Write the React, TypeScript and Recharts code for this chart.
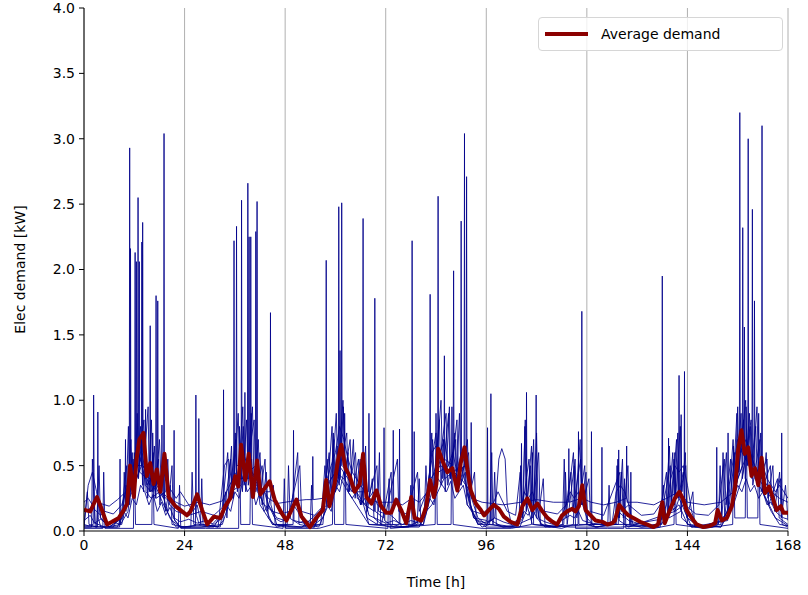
import { LineChart, Line, XAxis, YAxis, CartesianGrid, Legend } from 'recharts';

// hour of week, kW
const house1: [number, number][] = [
  [0, 0.05], [1.0, 0.04], [2.2, 0.05], [2.3, 1.04], [2.4, 0.45], [2.6, 0.06], [5.0, 0.03], [8.0, 0.03], [9.0, 0.12], [9.8, 0.2], [9.9, 0.7], [10.0, 0.22],
  [10.8, 0.3], [10.9, 2.93], [11.0, 0.45], [12.0, 0.35], [13.7, 0.5], [13.8, 2.21], [13.9, 0.6], [15.0, 0.35], [16.0, 0.4], [17.1, 0.3], [17.2, 1.8], [17.3, 0.35],
  [19.5, 0.25], [21.4, 0.2], [21.5, 0.77], [21.6, 0.08], [23.0, 0.03], [26.6, 0.04], [26.7, 1.04], [26.8, 0.12], [27.5, 0.05], [32.0, 0.03], [33.2, 0.08], [33.3, 1.08],
  [33.4, 0.15], [35.0, 0.3], [37.5, 0.35], [37.6, 2.53], [37.7, 0.4], [39.0, 0.5], [41.2, 0.4], [41.3, 2.52], [41.4, 0.3], [43.0, 0.2], [45.0, 0.05], [50.0, 0.03],
  [55.0, 0.03], [57.0, 0.2], [57.7, 0.3], [57.8, 2.07], [57.9, 0.35], [60.0, 0.45], [62.0, 0.4], [64.0, 0.3], [66.5, 0.35], [66.6, 2.39], [66.7, 0.2], [68.0, 0.05],
  [75.0, 0.03], [81.0, 0.05], [83.0, 0.3], [84.4, 0.4], [84.5, 2.56], [84.6, 0.45], [87.0, 0.5], [89.0, 0.4], [90.7, 0.5], [90.8, 3.04], [90.9, 0.4], [93.0, 0.1],
  [96.0, 0.03], [104.0, 0.03], [105.5, 0.15], [105.6, 1.06], [105.7, 0.2], [107.0, 0.05], [116.0, 0.03], [128.0, 0.03], [137.9, 0.05], [138.0, 1.95], [138.1, 0.1], [140.0, 0.15],
  [142.0, 0.2], [144.0, 0.05], [152.0, 0.03], [155.0, 0.2], [156.4, 0.5], [156.5, 3.2], [156.6, 0.6], [158.0, 0.7], [160.0, 0.5], [161.7, 0.4], [161.8, 3.1], [161.9, 0.3],
  [164.0, 0.15], [166.0, 0.05], [168, 0.04],
];

const house2: [number, number][] = [
  [0, 0.03], [3.2, 0.03], [3.3, 0.91], [3.4, 0.1], [4.0, 0.03], [8.5, 0.03], [8.6, 0.55], [8.7, 0.05], [10.5, 0.15], [11.0, 0.3], [11.1, 2.16], [11.2, 0.4],
  [12.8, 0.5], [12.9, 2.55], [13.0, 0.6], [14.6, 0.4], [14.7, 0.93], [14.8, 0.3], [16.0, 0.25], [18.0, 0.3], [19.0, 0.25], [19.1, 3.04], [19.2, 0.2], [20.5, 0.1],
  [22.0, 0.03], [28.0, 0.03], [33.0, 0.05], [34.5, 0.2], [36.0, 0.4], [39.0, 0.4], [39.1, 2.66], [39.2, 0.45], [41.0, 0.5], [42.0, 0.2], [45.0, 0.05], [49.9, 0.05],
  [50.0, 0.77], [50.1, 0.08], [56.0, 0.03], [59.0, 0.25], [60.7, 0.4], [60.8, 2.48], [60.9, 0.5], [63.0, 0.4], [65.0, 0.3], [67.0, 0.2], [69.3, 0.15], [69.4, 1.78],
  [69.5, 0.15], [71.5, 0.1], [71.6, 0.79], [71.7, 0.08], [74.0, 0.03], [80.0, 0.03], [82.0, 0.2], [82.5, 0.3], [82.6, 1.81], [82.7, 0.4], [85.0, 0.5], [88.0, 0.45],
  [91.2, 0.5], [91.3, 2.71], [91.4, 0.3], [93.0, 0.1], [96.2, 0.08], [96.3, 0.79], [96.4, 0.05], [102.0, 0.03], [107.0, 0.1], [107.8, 0.15], [107.9, 1.04], [108.0, 0.1],
  [110.0, 0.03], [117.9, 0.05], [118.0, 0.76], [118.1, 0.05], [127.5, 0.05], [127.6, 0.62], [127.7, 0.08], [130.0, 0.03], [141.0, 0.15], [143.2, 0.2], [143.3, 1.22], [143.4, 0.15],
  [145.0, 0.03], [153.6, 0.08], [153.7, 0.75], [153.8, 0.1], [156.0, 0.4], [158.4, 0.6], [158.5, 3.0], [158.6, 0.5], [161.0, 0.4], [163.0, 0.3], [165.0, 0.2], [166.4, 0.15],
  [166.5, 0.75], [166.6, 0.05], [168, 0.03],
];

const house3: [number, number][] = [
  [0, 0.22], [1.0, 0.25], [2.0, 0.2], [3.0, 0.24], [4.0, 0.21], [6.0, 0.19], [8.0, 0.24], [10.0, 0.3], [12.1, 0.4], [12.2, 2.13], [12.3, 0.5], [13.9, 0.5], [14.0, 2.36],
  [14.1, 0.5], [15.5, 0.4], [17.5, 0.4], [17.6, 1.76], [17.7, 0.35], [18.5, 0.3], [18.6, 0.81], [18.7, 0.3], [20.0, 0.25], [22.0, 0.22], [24.0, 0.19], [27.3, 0.22],
  [27.4, 0.86], [27.5, 0.22], [30.0, 0.2], [33.0, 0.23], [34.0, 0.3], [36.3, 0.45], [36.4, 2.33], [36.5, 0.5], [38.0, 0.5], [39.7, 0.5], [39.8, 2.25], [39.9, 0.4],
  [42.0, 0.35], [44.0, 0.25], [46.0, 0.21], [50.0, 0.23], [53.0, 0.24], [54.5, 0.24], [54.6, 0.57], [54.7, 0.24], [57.0, 0.25], [59.0, 0.4], [61.4, 0.5], [61.5, 2.51],
  [61.6, 0.5], [63.0, 0.45], [65.0, 0.3], [67.9, 0.3], [68.0, 0.9], [68.1, 0.25], [70.0, 0.22], [73.7, 0.22], [73.8, 0.77], [73.9, 0.22], [76.0, 0.2], [78.2, 0.25],
  [78.3, 2.22], [78.4, 0.25], [80.0, 0.22], [82.0, 0.3], [84.0, 0.5], [86.0, 0.55], [88.1, 0.5], [88.2, 1.99], [88.3, 0.45], [90.0, 0.4], [92.3, 0.3], [92.4, 0.83],
  [92.5, 0.25], [95.0, 0.22], [100.0, 0.2], [104.3, 0.22], [104.4, 0.67], [104.5, 0.22], [108.0, 0.24], [112.0, 0.22], [115.6, 0.22], [115.7, 0.63], [115.8, 0.22], [118.7, 0.25],
  [118.8, 1.68], [118.9, 0.25], [121.0, 0.22], [124.0, 0.2], [127.0, 0.22], [129.4, 0.25], [129.5, 0.65], [129.6, 0.22], [132.0, 0.22], [136.0, 0.2], [139.0, 0.25], [141.9, 0.3],
  [142.0, 1.19], [142.1, 0.3], [144.0, 0.22], [148.0, 0.2], [152.0, 0.22], [155.0, 0.3], [157.1, 0.5], [157.2, 2.32], [157.3, 0.6], [159.4, 0.5], [159.5, 2.46], [159.6, 0.5],
  [162.0, 0.4], [164.0, 0.3], [166.0, 0.25], [168, 0.22],
];

const house4: [number, number][] = [
  [0, 0.04], [5.0, 0.03], [9.0, 0.05], [10.0, 0.2], [11.5, 0.3], [12.4, 0.4], [12.5, 2.06], [12.6, 0.5], [13.1, 0.5], [13.2, 2.06], [13.3, 0.45], [15.0, 0.4],
  [15.7, 0.35], [15.8, 1.57], [15.9, 0.3], [17.0, 0.35], [19.0, 0.2], [21.0, 0.08], [23.0, 0.03], [31.0, 0.03], [34.0, 0.2], [35.7, 0.3], [35.8, 2.22], [35.9, 0.4],
  [37.0, 0.4], [38.3, 0.4], [38.4, 1.06], [38.5, 0.4], [39.3, 0.4], [39.4, 2.25], [39.5, 0.45], [40.9, 0.4], [41.0, 2.29], [41.1, 0.35], [43.0, 0.3], [44.4, 0.3],
  [44.5, 1.67], [44.6, 0.2], [46.0, 0.05], [52.0, 0.03], [58.0, 0.2], [60.0, 0.3], [61.0, 0.4], [61.1, 1.38], [61.2, 0.4], [63.0, 0.3], [66.0, 0.15], [68.0, 0.05],
  [75.2, 0.05], [75.3, 0.78], [75.4, 0.05], [78.7, 0.05], [78.8, 0.76], [78.9, 0.05], [83.0, 0.2], [85.9, 0.4], [86.0, 1.34], [86.1, 0.4], [88.0, 0.45], [89.9, 0.5],
  [90.0, 2.37], [90.1, 0.5], [92.0, 0.2], [94.0, 0.05], [97.0, 0.08], [97.1, 1.05], [97.2, 0.08], [100.0, 0.03], [112.0, 0.03], [121.0, 0.05], [121.1, 0.76], [121.2, 0.05],
  [123.5, 0.05], [123.6, 0.64], [123.7, 0.05], [130.4, 0.05], [130.5, 0.45], [130.6, 0.05], [139.4, 0.1], [139.5, 0.71], [139.6, 0.1], [142.4, 0.15], [142.5, 0.89], [142.6, 0.1],
  [145.0, 0.03], [150.9, 0.05], [151.0, 0.64], [151.1, 0.05], [155.0, 0.2], [157.0, 0.4], [157.5, 0.5], [157.6, 1.56], [157.7, 0.55], [159.9, 0.5], [160.0, 1.76], [160.1, 0.4],
  [162.0, 0.3], [165.0, 0.1], [168, 0.04],
];

const house5: [number, number][] = [
  [0, 0.03], [1.8, 0.03], [2.0, 0.55], [2.3, 0.3], [2.7, 0.03], [7.0, 0.03], [9.0, 0.15], [10.2, 0.5], [10.5, 0.2], [11.5, 0.6], [12.0, 0.3], [13.5, 0.8],
  [14.0, 0.35], [15.3, 0.95], [15.6, 0.3], [16.5, 0.6], [17.0, 0.25], [18.0, 0.7], [18.5, 0.3], [20.0, 0.15], [21.0, 0.5], [21.3, 0.1], [23.0, 0.03], [25.5, 0.03],
  [25.8, 0.45], [26.2, 0.05], [30.0, 0.03], [33.5, 0.15], [35.0, 0.55], [35.5, 0.25], [36.8, 0.9], [37.2, 0.4], [38.0, 0.8], [38.6, 0.3], [40.2, 0.95], [40.6, 0.3],
  [42.0, 0.6], [42.5, 0.2], [43.5, 0.45], [44.0, 0.1], [46.0, 0.03], [48.5, 0.05], [48.8, 0.5], [49.2, 0.1], [51.0, 0.6], [51.3, 0.05], [55.0, 0.03], [57.0, 0.2],
  [58.5, 0.6], [59.0, 0.3], [60.2, 0.9], [60.6, 0.4], [61.8, 1.0], [62.3, 0.45], [63.5, 0.7], [64.0, 0.3], [65.5, 0.55], [66.0, 0.2], [67.0, 0.4], [67.5, 0.1],
  [70.0, 0.05], [70.5, 0.6], [70.8, 0.05], [73.0, 0.03], [76.0, 0.03], [79.5, 0.05], [80.0, 0.4], [80.4, 0.05], [82.0, 0.3], [83.2, 0.7], [83.6, 0.35], [85.2, 1.0],
  [85.6, 0.4], [87.0, 0.9], [87.4, 0.4], [89.0, 0.85], [89.4, 0.35], [91.8, 0.6], [92.2, 0.2], [94.0, 0.05], [97.6, 0.05], [98.0, 0.45], [98.4, 0.05], [103.0, 0.03],
  [104.8, 0.1], [105.2, 0.8], [105.6, 0.15], [106.5, 0.5], [106.9, 0.1], [108.5, 0.6], [108.9, 0.05], [111.0, 0.03], [114.5, 0.05], [114.9, 0.45], [115.3, 0.05], [117.2, 0.55],
  [117.6, 0.1], [119.5, 0.5], [119.9, 0.05], [122.0, 0.03], [126.8, 0.05], [127.2, 0.5], [127.6, 0.1], [128.5, 0.55], [128.9, 0.05], [133.0, 0.03], [137.0, 0.05], [139.0, 0.45],
  [139.3, 0.1], [140.5, 0.6], [140.9, 0.2], [141.7, 0.75], [142.0, 0.25], [143.6, 0.5], [144.0, 0.05], [147.0, 0.03], [152.0, 0.05], [152.5, 0.6], [152.9, 0.1], [154.3, 0.55],
  [154.7, 0.2], [155.8, 0.9], [156.2, 0.45], [157.9, 1.0], [158.3, 0.5], [159.0, 0.8], [159.4, 0.4], [160.6, 0.95], [161.0, 0.4], [163.0, 0.55], [163.4, 0.2], [165.5, 0.4],
  [165.9, 0.1], [168, 0.05],
];

const house6: [number, number][] = [
  [0, 0.05], [1.0, 0.35], [2.0, 0.45], [3.0, 0.3], [4.0, 0.1], [6.0, 0.03], [9.0, 0.1], [10.0, 0.35], [11.0, 0.3], [12.0, 0.55], [13.0, 0.6], [14.0, 0.5],
  [15.0, 0.45], [16.0, 0.5], [17.0, 0.4], [18.0, 0.35], [19.0, 0.45], [20.0, 0.35], [21.0, 0.3], [22.0, 0.25], [23.0, 0.3], [24.0, 0.25], [25.0, 0.2], [26.0, 0.15],
  [27.0, 0.2], [28.0, 0.05], [32.0, 0.03], [33.5, 0.5], [34.5, 0.55], [35.5, 0.3], [37.0, 0.45], [38.0, 0.6], [39.0, 0.5], [40.0, 0.45], [41.0, 0.4], [42.0, 0.35],
  [43.0, 0.3], [44.0, 0.2], [46.0, 0.1], [48.0, 0.08], [50.0, 0.2], [51.0, 0.15], [53.0, 0.03], [57.0, 0.05], [58.0, 0.4], [59.0, 0.5], [60.0, 0.6], [61.0, 0.8],
  [62.0, 0.7], [63.0, 0.55], [64.0, 0.45], [65.0, 0.4], [66.0, 0.35], [67.0, 0.3], [68.0, 0.25], [69.0, 0.3], [70.0, 0.2], [72.0, 0.15], [74.0, 0.1], [76.0, 0.03],
  [81.0, 0.05], [82.0, 0.3], [83.0, 0.6], [84.0, 0.65], [85.0, 0.6], [86.0, 0.7], [87.0, 0.5], [88.0, 0.6], [89.0, 0.45], [90.0, 0.6], [91.0, 0.5], [92.0, 0.3],
  [93.0, 0.2], [94.0, 0.1], [96.0, 0.05], [98.0, 0.1], [99.0, 0.55], [99.7, 0.63], [100.5, 0.55], [101.0, 0.2], [102.0, 0.05], [104.0, 0.1], [105.0, 0.3], [106.0, 0.25],
  [107.0, 0.3], [108.0, 0.2], [109.0, 0.05], [113.0, 0.03], [115.0, 0.2], [116.0, 0.3], [117.0, 0.25], [118.0, 0.3], [119.0, 0.2], [120.0, 0.1], [122.0, 0.03], [126.0, 0.05],
  [127.0, 0.3], [128.0, 0.35], [129.0, 0.3], [130.0, 0.2], [131.0, 0.05], [137.0, 0.03], [139.0, 0.2], [140.0, 0.4], [141.0, 0.5], [142.0, 0.45], [143.0, 0.5], [144.0, 0.35],
  [145.0, 0.15], [146.0, 0.05], [152.0, 0.03], [154.0, 0.2], [155.0, 0.5], [156.0, 0.7], [157.0, 0.6], [158.0, 0.55], [159.0, 0.6], [160.0, 0.5], [161.0, 0.45], [162.0, 0.5],
  [163.0, 0.4], [164.0, 0.35], [165.0, 0.3], [166.0, 0.35], [167.0, 0.3], [168, 0.25],
];

const house7: [number, number][] = [
  [0, 0.15], [2.0, 0.18], [4.0, 0.12], [5.0, 0.15], [7.0, 0.13], [9.0, 0.2], [10.5, 0.35], [11.2, 0.7], [11.6, 0.3], [13.0, 0.45], [14.3, 0.85], [14.6, 0.35],
  [16.0, 0.3], [16.8, 0.65], [17.2, 0.25], [19.5, 0.3], [20.0, 0.55], [20.4, 0.2], [22.0, 0.15], [25.0, 0.12], [28.0, 0.15], [31.0, 0.12], [33.0, 0.18], [34.3, 0.6],
  [34.7, 0.25], [36.2, 0.7], [36.6, 0.3], [37.9, 0.95], [38.2, 0.35], [40.6, 0.85], [41.0, 0.3], [42.5, 0.5], [43.0, 0.2], [45.0, 0.15], [47.0, 0.13], [49.0, 0.15],
  [51.5, 0.5], [51.9, 0.15], [55.0, 0.12], [57.3, 0.2], [58.2, 0.55], [58.6, 0.25], [59.6, 0.7], [60.0, 0.3], [62.7, 0.75], [63.1, 0.3], [64.8, 0.6], [65.2, 0.25],
  [67.5, 0.2], [69.9, 0.5], [70.3, 0.15], [72.0, 0.13], [74.8, 0.55], [75.1, 0.15], [77.0, 0.13], [79.6, 0.45], [80.0, 0.15], [81.8, 0.3], [84.0, 0.75], [84.3, 0.4],
  [86.4, 0.9], [86.8, 0.35], [88.7, 0.7], [89.1, 0.3], [91.0, 0.45], [91.4, 0.2], [93.0, 0.15], [95.0, 0.13], [97.5, 0.2], [98.8, 0.3], [101.0, 0.15], [103.0, 0.12],
  [104.1, 0.45], [104.5, 0.15], [106.2, 0.55], [106.6, 0.2], [107.3, 0.7], [107.6, 0.2], [110.0, 0.15], [113.0, 0.13], [115.1, 0.2], [116.2, 0.45], [116.6, 0.15], [118.5, 0.55],
  [118.9, 0.2], [120.5, 0.4], [120.8, 0.15], [124.0, 0.12], [127.9, 0.45], [128.2, 0.15], [130.0, 0.2], [133.0, 0.12], [136.0, 0.13], [138.5, 0.25], [139.9, 0.5], [140.2, 0.2],
  [141.4, 0.7], [141.8, 0.25], [143.0, 0.45], [143.4, 0.2], [146.0, 0.13], [149.0, 0.12], [151.5, 0.2], [152.8, 0.55], [153.2, 0.2], [155.2, 0.6], [155.6, 0.35], [156.8, 0.9],
  [157.1, 0.4], [159.2, 0.85], [159.6, 0.35], [161.3, 0.7], [161.6, 0.3], [163.8, 0.5], [164.2, 0.2], [166.2, 0.4], [166.7, 0.15], [168, 0.15],
];

const house8: [number, number][] = [
  [0, 0.02], [4.5, 0.02], [4.7, 0.45], [5.0, 0.02], [11.8, 0.02], [12.0, 0.6], [12.3, 0.05], [16.2, 0.05], [16.4, 0.75], [16.7, 0.05], [22.5, 0.02], [22.8, 0.35],
  [23.1, 0.02], [29.0, 0.02], [36.9, 0.02], [37.1, 0.8], [37.4, 0.05], [39.6, 0.05], [39.9, 0.9], [40.2, 0.05], [47.5, 0.02], [47.8, 0.4], [48.1, 0.02], [56.0, 0.02],
  [59.3, 0.05], [59.5, 0.75], [59.8, 0.05], [62.0, 0.05], [62.2, 0.9], [62.5, 0.05], [72.5, 0.02], [72.8, 0.4], [73.1, 0.02], [83.8, 0.05], [84.0, 0.9], [84.3, 0.05],
  [87.6, 0.05], [87.8, 0.95], [88.1, 0.05], [95.0, 0.02], [102.0, 0.02], [106.8, 0.05], [107.0, 0.6], [107.3, 0.05], [114.0, 0.02], [116.8, 0.05], [117.0, 0.5], [117.3, 0.02],
  [125.0, 0.02], [128.8, 0.02], [129.0, 0.4], [129.3, 0.02], [136.0, 0.02], [140.8, 0.05], [141.0, 0.6], [141.3, 0.05], [148.0, 0.02], [154.8, 0.05], [155.0, 0.65], [155.3, 0.1],
  [157.8, 0.1], [158.0, 0.95], [158.3, 0.1], [160.8, 0.1], [161.0, 0.9], [161.3, 0.05], [168, 0.02],
];

const house9: [number, number][] = [
  [0, 0.03], [0.8, 0.3], [1.2, 0.05], [3.0, 0.03], [3.6, 0.5], [3.9, 0.1], [6.0, 0.03], [9.3, 0.1], [9.6, 0.45], [10.0, 0.15], [10.6, 0.8], [10.9, 0.2],
  [11.7, 0.55], [12.1, 0.3], [12.7, 0.9], [13.0, 0.4], [13.6, 0.7], [14.2, 0.3], [14.9, 0.6], [15.2, 0.25], [16.1, 0.85], [16.4, 0.3], [17.8, 0.55], [18.1, 0.2],
  [18.9, 0.45], [19.4, 0.15], [20.6, 0.35], [21.0, 0.05], [24.0, 0.03], [27.8, 0.05], [28.1, 0.4], [28.4, 0.05], [32.5, 0.03], [33.8, 0.3], [34.1, 0.1], [35.2, 0.65],
  [35.6, 0.25], [36.1, 0.75], [36.5, 0.35], [37.3, 0.6], [37.8, 0.3], [38.8, 0.85], [39.2, 0.35], [40.0, 0.55], [40.5, 0.3], [41.6, 0.7], [42.0, 0.25], [43.2, 0.55],
  [43.7, 0.15], [45.2, 0.35], [45.6, 0.05], [48.0, 0.03], [52.0, 0.03], [54.0, 0.05], [54.3, 0.35], [54.6, 0.05], [56.5, 0.05], [57.5, 0.5], [57.9, 0.2], [59.2, 0.8],
  [59.5, 0.3], [60.4, 0.65], [60.9, 0.35], [61.9, 0.95], [62.2, 0.4], [63.0, 0.6], [63.4, 0.3], [64.3, 0.7], [64.7, 0.25], [65.9, 0.55], [66.3, 0.2], [67.2, 0.65],
  [67.6, 0.15], [68.8, 0.4], [69.2, 0.1], [71.0, 0.05], [73.3, 0.45], [73.6, 0.05], [76.0, 0.03], [77.5, 0.03], [78.0, 0.35], [78.3, 0.05], [81.2, 0.1], [81.6, 0.5],
  [82.0, 0.2], [83.0, 0.75], [83.3, 0.3], [84.8, 0.85], [85.2, 0.35], [85.8, 0.7], [86.2, 0.3], [87.2, 0.95], [87.5, 0.4], [88.5, 0.75], [88.9, 0.35], [89.6, 0.9],
  [90.0, 0.35], [91.5, 0.7], [91.9, 0.25], [93.2, 0.45], [93.6, 0.08], [95.0, 0.03], [96.8, 0.05], [97.3, 0.6], [97.6, 0.05], [100.0, 0.03], [103.8, 0.05], [104.2, 0.5],
  [104.6, 0.1], [105.3, 0.85], [105.7, 0.2], [106.8, 0.65], [107.2, 0.15], [108.0, 0.75], [108.4, 0.1], [109.6, 0.4], [110.0, 0.05], [112.0, 0.03], [114.2, 0.05], [114.6, 0.55],
  [115.0, 0.1], [116.8, 0.6], [117.2, 0.15], [118.4, 0.7], [118.7, 0.2], [119.8, 0.45], [120.2, 0.05], [122.5, 0.03], [125.0, 0.05], [125.3, 0.35], [125.6, 0.05], [127.0, 0.05],
  [127.4, 0.55], [127.8, 0.1], [128.3, 0.45], [128.7, 0.1], [129.8, 0.5], [130.2, 0.05], [133.0, 0.03], [137.5, 0.03], [138.3, 0.35], [138.7, 0.1], [139.7, 0.65], [140.1, 0.2],
  [140.8, 0.55], [141.2, 0.25], [142.3, 0.8], [142.7, 0.3], [143.5, 0.6], [143.9, 0.1], [145.3, 0.3], [145.7, 0.03], [150.0, 0.03], [151.4, 0.05], [151.8, 0.5], [152.2, 0.1],
  [153.3, 0.6], [153.7, 0.15], [154.9, 0.7], [155.3, 0.3], [156.0, 0.95], [156.3, 0.45], [157.4, 0.85], [157.8, 0.4], [158.8, 0.9], [159.1, 0.45], [160.3, 0.8], [160.7, 0.4],
  [161.5, 0.75], [161.9, 0.3], [162.8, 0.6], [163.2, 0.25], [164.4, 0.5], [164.8, 0.15], [166.0, 0.45], [166.4, 0.1], [167.4, 0.35], [168, 0.08],
];

const house10: [number, number][] = [
  [0, 0.08], [1.5, 0.12], [2.5, 0.06], [4.0, 0.09], [5.5, 0.05], [7.0, 0.07], [8.5, 0.05], [9.5, 0.15], [10.5, 0.1], [11.5, 0.25], [12.5, 0.2], [13.5, 0.35],
  [14.5, 0.3], [15.5, 0.2], [16.5, 0.28], [17.5, 0.15], [18.5, 0.22], [19.5, 0.12], [20.5, 0.18], [21.5, 0.1], [23.0, 0.07], [25.0, 0.09], [27.0, 0.06], [29.0, 0.08],
  [31.0, 0.05], [33.0, 0.1], [34.0, 0.2], [35.0, 0.15], [36.0, 0.3], [37.0, 0.25], [38.0, 0.4], [39.0, 0.3], [40.0, 0.35], [41.0, 0.2], [42.0, 0.3], [43.0, 0.15],
  [44.0, 0.2], [45.5, 0.1], [47.0, 0.07], [49.0, 0.1], [51.0, 0.06], [53.0, 0.08], [55.0, 0.05], [57.0, 0.1], [58.0, 0.2], [59.0, 0.15], [60.0, 0.35], [61.0, 0.3],
  [62.0, 0.45], [63.0, 0.3], [64.0, 0.25], [65.0, 0.3], [66.0, 0.2], [67.0, 0.25], [68.0, 0.12], [70.0, 0.09], [72.0, 0.06], [74.0, 0.08], [76.0, 0.05], [78.0, 0.08],
  [80.0, 0.06], [81.5, 0.12], [82.5, 0.25], [83.5, 0.2], [84.5, 0.4], [85.5, 0.35], [86.5, 0.3], [87.5, 0.38], [88.5, 0.25], [89.5, 0.3], [90.5, 0.35], [91.5, 0.2],
  [92.5, 0.15], [94.0, 0.08], [96.0, 0.06], [98.0, 0.1], [100.0, 0.07], [102.0, 0.05], [104.0, 0.08], [105.0, 0.15], [106.0, 0.12], [107.0, 0.18], [108.0, 0.1], [110.0, 0.07],
  [112.0, 0.05], [114.0, 0.08], [116.0, 0.12], [117.0, 0.1], [118.0, 0.15], [119.0, 0.08], [121.0, 0.06], [124.0, 0.05], [126.0, 0.07], [127.5, 0.15], [128.5, 0.12], [130.0, 0.08],
  [132.0, 0.06], [135.0, 0.04], [138.0, 0.06], [139.0, 0.12], [140.0, 0.2], [141.0, 0.15], [142.0, 0.25], [143.0, 0.18], [144.0, 0.1], [146.0, 0.05], [148.0, 0.04], [150.0, 0.06],
  [152.0, 0.08], [153.0, 0.12], [154.0, 0.18], [155.0, 0.25], [156.0, 0.35], [157.0, 0.3], [158.0, 0.4], [159.0, 0.3], [160.0, 0.35], [161.0, 0.25], [162.0, 0.3], [163.0, 0.2],
  [164.0, 0.22], [165.0, 0.15], [166.0, 0.12], [167.0, 0.1], [168, 0.09],
];

const averageDemand: [number, number][] = [
  [0, 0.17], [0.3, 0.16], [1.5, 0.15], [3.1, 0.26], [4.3, 0.16], [5.5, 0.05], [6.7, 0.07], [8.3, 0.1], [9.5, 0.16], [10.3, 0.21], [11.0, 0.5], [11.9, 0.26],
  [12.5, 0.54], [13.2, 0.7], [14.2, 0.75], [15.0, 0.42], [15.8, 0.52], [16.6, 0.36], [17.4, 0.47], [18.2, 0.3], [19.2, 0.59], [20.2, 0.26], [21.8, 0.19], [23.4, 0.15],
  [24.6, 0.12], [25.4, 0.15], [27.0, 0.28], [28.2, 0.16], [29.4, 0.05], [31.0, 0.11], [32.5, 0.1], [33.7, 0.19], [34.9, 0.25], [36.1, 0.42], [36.8, 0.34], [37.5, 0.66],
  [38.5, 0.39], [39.3, 0.59], [40.3, 0.26], [41.3, 0.54], [42.1, 0.28], [44.3, 0.38], [45.5, 0.24], [47.1, 0.14], [48.3, 0.08], [49.5, 0.16], [50.7, 0.24], [51.9, 0.11],
  [53.9, 0.03], [55.4, 0.1], [57.0, 0.16], [57.8, 0.39], [58.6, 0.19], [59.8, 0.36], [60.6, 0.54], [61.4, 0.66], [62.4, 0.48], [63.4, 0.42], [64.6, 0.3], [65.8, 0.36],
  [66.6, 0.59], [67.4, 0.26], [68.6, 0.21], [69.8, 0.31], [70.9, 0.19], [72.1, 0.14], [73.3, 0.14], [74.5, 0.24], [75.7, 0.16], [76.9, 0.06], [78.1, 0.26], [78.9, 0.1],
  [80.5, 0.08], [81.7, 0.19], [82.6, 0.39], [83.5, 0.26], [84.1, 0.36], [84.5, 0.63], [85.5, 0.54], [86.7, 0.45], [87.9, 0.48], [89.1, 0.31], [89.9, 0.52], [90.8, 0.64],
  [91.5, 0.47], [92.3, 0.31], [93.5, 0.21], [94.7, 0.16], [95.5, 0.12], [96.6, 0.16], [97.8, 0.2], [99.0, 0.17], [100.2, 0.11], [101.8, 0.07], [103.4, 0.05], [104.6, 0.19],
  [105.8, 0.25], [107.0, 0.16], [108.2, 0.21], [109.4, 0.15], [110.6, 0.1], [111.8, 0.07], [112.9, 0.05], [114.1, 0.12], [115.3, 0.15], [116.5, 0.17], [117.3, 0.15], [118.1, 0.19],
  [118.9, 0.35], [119.7, 0.16], [120.9, 0.12], [122.1, 0.08], [123.7, 0.07], [124.9, 0.05], [126.1, 0.06], [126.7, 0.08], [127.7, 0.2], [128.7, 0.16], [129.9, 0.12], [131.1, 0.1],
  [132.7, 0.07], [134.3, 0.05], [135.9, 0.03], [137.0, 0.05], [138.0, 0.22], [138.6, 0.06], [139.8, 0.16], [141.0, 0.25], [142.1, 0.3], [143.0, 0.24], [143.8, 0.16], [145.0, 0.1],
  [146.2, 0.05], [147.8, 0.03], [149.4, 0.04], [150.6, 0.06], [151.2, 0.16], [152.2, 0.08], [153.4, 0.1], [154.6, 0.19], [155.4, 0.34], [156.1, 0.62], [156.9, 0.77], [157.7, 0.59],
  [158.5, 0.64], [159.3, 0.42], [160.1, 0.48], [160.9, 0.35], [161.7, 0.56], [162.5, 0.29], [163.5, 0.34], [164.5, 0.24], [165.3, 0.16], [166.3, 0.19], [166.9, 0.14], [168, 0.14],
];

const households = [house1, house2, house3, house4, house5, house6, house7, house8, house9, house10];
const hourTicks = [0, 24, 48, 72, 96, 120, 144, 168];
const demandTicks = [0, 0.5, 1, 1.5, 2, 2.5, 3, 3.5, 4];

const toPoints = (rows: [number, number][]) => rows.map(([t, v]) => ({ t, v }));

const font = 'DejaVu Sans, sans-serif';
const tickStyle = { fill: '#000', fontSize: 14, fontFamily: font };

function LegendBox({ payload }: any) {
  const items = (payload || []).filter((p: any) => p.value === 'Average demand');
  return (
    <div
      style={{
        border: '1px solid #d6d6d6',
        borderRadius: 4,
        background: 'rgba(255,255,255,0.8)',
        padding: '5px 6px',
        fontFamily: font,
        fontSize: 14,
        color: '#000',
        width: 231,
      }}
    >
      {items.map((p: any) => (
        <div key={p.value} style={{ display: 'flex', alignItems: 'center', height: 22 }}>
          <span style={{ display: 'inline-block', width: 43, height: 4, background: p.color, marginRight: 13 }} />
          {p.value}
        </div>
      ))}
    </div>
  );
}

export default function App() {
  return (
    <div style={{ position: 'absolute', left: 0, top: 0, background: '#fff' }}>
      <LineChart width={808} height={595} margin={{ top: 8, right: 20, left: 0, bottom: 0 }}>
        <CartesianGrid horizontal={false} stroke="#b0b0b0" strokeWidth={1} />
        <XAxis
          xAxisId={0}
          dataKey="t"
          type="number"
          domain={[0, 168]}
          ticks={hourTicks}
          allowDataOverflow
          height={64}
          tick={tickStyle}
          tickSize={5}
          tickMargin={4}
          stroke="#000"
          label={{ value: 'Time [h]', position: 'insideBottom', offset: 8, fill: '#000', fontSize: 14, fontFamily: font }}
        />
        <XAxis xAxisId="top" orientation="top" type="number" domain={[0, 168]} height={0} tick={false} tickLine={false} stroke="#000" />
        <YAxis
          yAxisId={0}
          type="number"
          domain={[0, 4]}
          ticks={demandTicks}
          allowDataOverflow
          width={84}
          tick={tickStyle}
          tickSize={5}
          tickMargin={4}
          tickFormatter={(v: number) => v.toFixed(1)}
          stroke="#000"
          label={{ value: 'Elec demand [kW]', angle: -90, position: 'insideLeft', offset: 20, fill: '#000', fontSize: 14, fontFamily: font, style: { textAnchor: 'middle' } }}
        />
        <YAxis yAxisId="right" orientation="right" domain={[0, 4]} width={0} tick={false} tickLine={false} stroke="#000" />
        {households.map((h, i) => (
          <Line
            key={i}
            data={toPoints(h)}
            dataKey="v"
            name={`house ${i + 1}`}
            stroke="#00008b"
            strokeWidth={1}
            strokeOpacity={0.85}
            dot={false}
            activeDot={false}
            legendType="none"
            isAnimationActive={false}
          />
        ))}
        <Line
          data={toPoints(averageDemand)}
          dataKey="v"
          name="Average demand"
          stroke="#8b0000"
          strokeWidth={4}
          strokeLinejoin="round"
          dot={false}
          activeDot={false}
          isAnimationActive={false}
        />
        <Legend
          layout="vertical"
          align="center"
          verticalAlign="middle"
          content={<LegendBox />}
          wrapperStyle={{ position: 'absolute', top: 17, left: 538, width: 246 }}
        />
      </LineChart>
    </div>
  );
}
